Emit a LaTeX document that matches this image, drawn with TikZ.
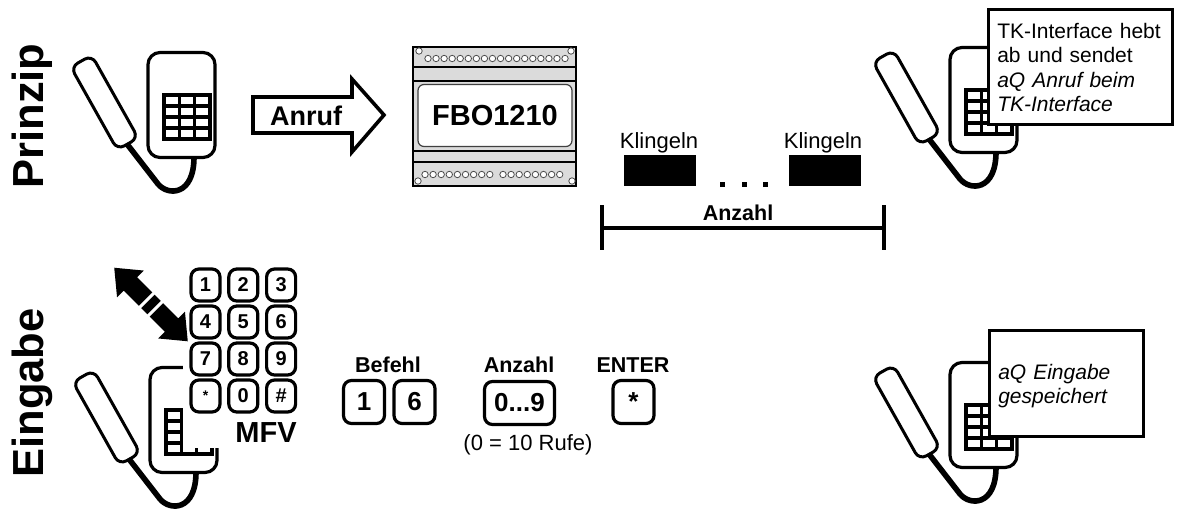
\documentclass[tikz,border=0pt]{standalone}
\usepackage{fontspec}
\setmainfont{Liberation Sans}

% Telefon: Hoerer, Gehaeuse, Tastenfeld, Schnur
\newcommand{\telefon}[3]{%
    \begin{scope}[shift={(#2,#3)}]
        \draw[schnur] (127,144) -- (158,184) .. controls (168,196) and (194,196) .. (194,157);
        \node[hoerer] (#1hoerer) at (104.5,102.5) {};
        \node[gehaeuse] (#1gehaeuse) at (181.5,105) {};
        \draw[gitter] (164,95) rectangle (210,139);
        \foreach \sx in {1,2}
            \draw[gitter] ({164+15.3*\sx},95) -- ({164+15.3*\sx},139);
        \foreach \sy in {1,2,3}
            \draw[gitter] (164,{95+11*\sy}) -- (210,{95+11*\sy});
    \end{scope}
}

\begin{document}
\begin{tikzpicture}[
        x=1pt,
        y=-1pt,
        hoerer/.style={draw=black, fill=white, line width=3, rotate=-60.7,
            minimum width=95, minimum height=24, rounded corners=8, inner sep=0pt},
        gehaeuse/.style={draw=black, fill=white, line width=3.2,
            minimum width=67, minimum height=105, rounded corners=12, inner sep=0pt},
        schnur/.style={line width=5.6},
        gitter/.style={line width=3.4, fill=white},
        taste/.style={draw=black, fill=white, line width=3.2, rounded corners=8, inner sep=0pt,
            minimum width=29, minimum height=32, font=\fontsize{20}{20}\selectfont\bfseries},
        grosstaste/.style={taste, minimum width=41, minimum height=43,
            font=\fontsize{26}{26}\selectfont\bfseries},
        titel/.style={rotate=90, anchor=base, font=\fontsize{43.5}{44}\selectfont\bfseries},
        fett/.style={font=\fontsize{21.5}{22}\selectfont\bfseries},
        normal/.style={font=\fontsize{22}{22}\selectfont},
        notiz/.style={draw=black, fill=white, line width=2.6, anchor=north west, align=left,
            inner xsep=9, inner ysep=0pt, font=\fontsize{21}{24.5}\selectfont},
        klingel/.style={fill=black, minimum width=72, minimum height=31, inner sep=0pt},
        loch/.style={draw=black!70, fill=white, line width=0.8},
        balken/.style={line width=3.4}
    ]
    \useasboundingbox (0,0) rectangle (1177,517);

    % Titel
    \node[titel] (prinzip) at (43,116) {Prinzip};
    \node[titel] (eingabe) at (43,393) {Eingabe};

    % Obere Reihe
    \telefon{a}{0}{0}
    \draw[line width=3.6, fill=white, miter limit=10] (253,97) -- (352,97) -- (352,79) -- (384,115)
        -- (352,152) -- (352,133) -- (253,133) -- cycle;
    \node[font=\fontsize{27}{27}\selectfont\bfseries] (anruf) at (306,116) {Anruf};

    % FBO1210
    \draw[line width=2, fill=black!14] (413,47) rectangle (576,186);
    \draw[line width=2] (413,67) -- (576,67);
    \draw[line width=2] (413,81) -- (576,81);
    \draw[line width=2] (413,151) -- (576,151);
    \draw[line width=2] (413,162) -- (576,162);
    \node[draw=black!75, fill=white, line width=1.2, rounded corners=6, minimum width=154,
        minimum height=62, inner sep=0pt, font=\fontsize{29}{29}\selectfont\bfseries] (fbo) at (495,115.5) {FBO1210};
    \foreach \i in {0,...,17}
        \draw[loch] ({428+8.06*\i},58.5) circle (3.2);
    \foreach \i in {0,...,8}
        \draw[loch] ({425+8.1*\i},174.5) circle (3.2);
    \foreach \i in {0,...,7}
        \draw[loch] ({503+8.1*\i},174.5) circle (3.2);
    \foreach \px/\py in {419/51,571/51,418/181,572/181}
        \draw[loch] (\px,\py) circle (3.2);

    % Klingeln
    \node[klingel] (k1) at (660,170.5) {};
    \node[klingel] (k2) at (824.5,170.5) {};
    \node[normal] (k1text) at (659,143) {Klingeln};
    \node[normal] (k2text) at (823,143) {Klingeln};
    \foreach \px in {722,744,765}
        \fill (\px-2.5,181.5) rectangle (\px+2.5,186.5);
    \coordinate (links) at (602,228);
    \coordinate (rechts) at (884,228);
    \draw[balken] (links) -- (rechts);
    \draw[balken] (602,205) -- (links) -- (602,250);
    \draw[balken] (884,205) -- (rechts) -- (884,250);
    \node[fett] (anzahl1) at (738,213) {Anzahl};

    \telefon{b}{802}{-5}
    \node[notiz, text width=166, minimum height=115] (notiz1) at (987,8)
        {\rule{0pt}{17pt}TK-Interface hebt\\ab und sendet\\\textit{aQ Anruf beim}\\\textit{TK-Interface}};

    % Untere Reihe
    \telefon{c}{2}{315}
    \fill[white] (183,360) rectangle (222,448);

    \foreach \lab/\spalte/\zeile in {1/0/0,2/1/0,3/2/0,4/0/1,5/1/1,6/2/1,7/0/2,8/1/2,9/2/2,{\fontsize{14}{14}\selectfont*}/0/3,0/1/3,\#/2/3}
        \node[taste] (t\spalte\zeile) at ({205.5+37.8*\spalte},{285+37*\zeile}) {\lab};
    \node[font=\fontsize{29}{29}\selectfont\bfseries, anchor=base] (mfv) at (266,442) {MFV};

    % Doppelpfeil
    \begin{scope}[shift={(151,304.5)}, rotate=-45, y=1pt]
        \fill (-52,0) -- (-29,19) -- (-29,9.5) -- (29,9.5) -- (29,19) -- (52,0)
            -- (29,-19) -- (29,-9.5) -- (-29,-9.5) -- (-29,-19) -- cycle;
        \draw[white, line width=3] (-6,-12) -- (-6,12);
        \draw[white, line width=3] (6,-12) -- (6,12);
    \end{scope}

    % Eingabe
    \node[fett, anchor=base] (befehl) at (388,372) {Befehl};
    \node[fett, anchor=base] (anzahl2) at (519,372) {Anzahl};
    \node[fett, anchor=base] (enter) at (633,372) {ENTER};
    \node[grosstaste] (b1) at (364,402) {1};
    \node[grosstaste] (b6) at (414.5,402) {6};
    \node[grosstaste, minimum width=70] (b09) at (519.5,403) {0...9};
    \node[grosstaste] (bstern) at (633.5,402) {*};
    \node[normal] (rufe) at (528,445) {(0 = 10 Rufe)};

    \telefon{d}{802}{310}
    \node[notiz, text width=136, minimum height=106] (notiz2) at (988,329)
        {\rule{0pt}{21pt}\textit{aQ Eingabe}\\\textit{gespeichert}};

\end{tikzpicture}
\end{document}
